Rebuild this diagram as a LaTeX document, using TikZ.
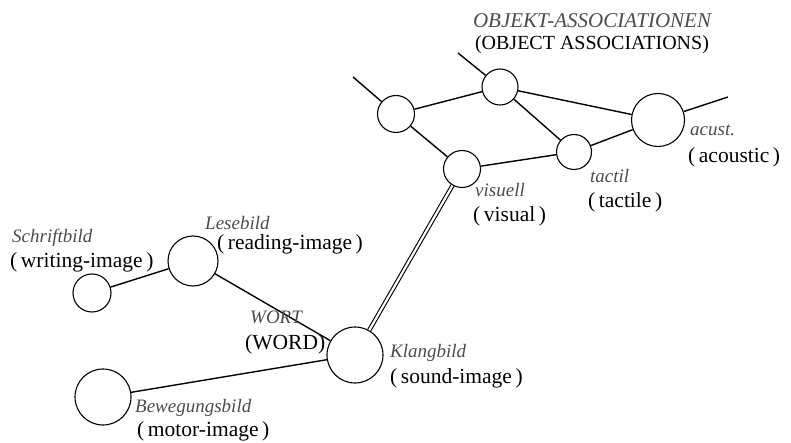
\documentclass[tikz,border=0pt]{standalone}
\usepackage{fontspec}
\setmainfont{Liberation Serif}
\begin{document}
\begin{tikzpicture}[x=1pt,y=-1pt,
  blob/.style={circle,draw,line width=1.1pt,inner sep=0pt,minimum size=#1},
  link/.style={line width=1.4pt},
  twin/.style={double,double distance=2.2pt,line width=1.1pt},
  de/.style={font=\fontsize{19}{19}\selectfont\itshape,text=black!70,anchor=base west,inner sep=0pt},
  en/.style={font=\fontsize{21.5}{21.5}\selectfont,anchor=base west,inner sep=0pt},
  dec/.style={de,anchor=base},
  enc/.style={en,anchor=base}]
\useasboundingbox (0,0) rectangle (791,443);
% circles
\node[blob=37] (A) at (396,114) {};
\node[blob=36] (B) at (500,87) {};
\node[blob=53] (C) at (658,120) {};
\node[blob=35] (D) at (574,152) {};
\node[blob=37] (E) at (462,169) {};
\node[blob=50] (L) at (193,261) {};
\node[blob=38] (S) at (92,293) {};
\node[blob=56] (K) at (355,355) {};
\node[blob=56] (M) at (103,397) {};
% free ends
\coordinate (a0) at (353,77);
\coordinate (b0) at (458,53);
\coordinate (c0) at (728,97);
% links
\draw[link] (a0) -- (A);
\draw[link] (b0) -- (B);
\draw[link] (C) -- (c0);
\draw[link] (A) -- (B);
\draw[link] (A) -- (E);
\draw[link] (B) -- (C);
\draw[link] (B) -- (D);
\draw[link] (D) -- (C);
\draw[link] (E) -- (D);
\draw[twin] (E) -- (K);
\draw[link] (S) -- (L);
\draw[link] (L) -- (K);
\draw[link] (K) -- (M);
% labels
\node[dec,font=\fontsize{21}{21}\selectfont\itshape] (t1) at (592,28) {OBJEKT-ASSOCIATIONEN};
\node[enc,font=\fontsize{20}{20}\selectfont] (t2) at (592,50) {(OBJECT ASSOCIATIONS)};
\node[de] (t3) at (690,136) {acust.};
\node[en] (t4) at (688,163) {(\,acoustic\,)};
\node[de] (t5) at (590,183) {tactil};
\node[en] (t6) at (588,208) {(\,tactile\,)};
\node[de] (t7) at (475,197) {visuell};
\node[en] (t8) at (473,222) {(\,visual\,)};
\node[de] (t9) at (205,230) {Lesebild};
\node[en] (t10) at (217,250) {(\,reading-image\,)};
\node[de] (t11) at (12,243) {Schriftbild};
\node[en] (t12) at (10,268) {(\,writing-image\,)};
\node[de] (t13) at (250,323) {WORT};
\node[en] (t14) at (245,349) {(WORD)};
\node[de] (t15) at (390,357) {Klangbild};
\node[en] (t16) at (390,383) {(\,sound-image\,)};
\node[de] (t17) at (135,412) {Bewegungsbild};
\node[en] (t18) at (137,436) {(\,motor-image\,)};
\end{tikzpicture}
\end{document}
